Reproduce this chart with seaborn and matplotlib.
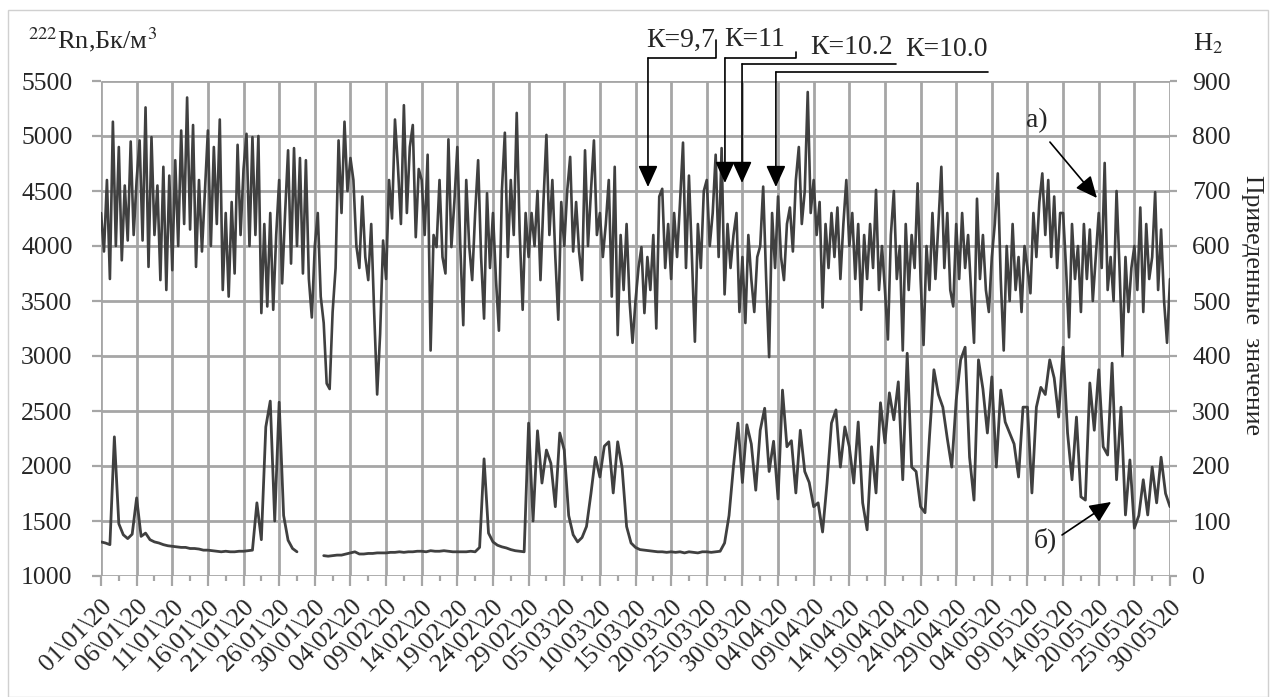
import numpy as np
import pandas as pd
import matplotlib.pyplot as plt
import seaborn as sns
from matplotlib.patches import Rectangle

# ==============================
# Data
# ==============================

# one label per grid column on the x axis
dates = [
    "01\\01\\20", "06\\01\\20", "11\\01\\20", "16\\01\\20", "21\\01\\20", "26\\01\\20",
    "30\\01\\20", "04\\02\\20", "09\\02\\20", "14\\02\\20", "19\\02\\20", "24\\02\\20",
    "29\\02\\20", "05\\03\\20", "10\\03\\20", "15\\03\\20", "20\\03\\20", "25\\03\\20",
    "30\\03\\20", "04\\04\\20", "09\\04\\20", "14\\04\\20", "19\\04\\20", "24\\04\\20",
    "29\\04\\20", "04\\05\\20", "09\\05\\20", "14\\05\\20", "20\\05\\20", "25\\05\\20",
    "30\\05\\20",
]

# readings between two neighbouring date labels
rn_per_step = 12
h2_per_step = 8

# radon, Bq/m3 (left axis), one row per label step
radon = [
    4300, 3950, 4600, 3700, 5130, 4000, 4900, 3870, 4550, 4050, 4950, 4100,
    4600, 4960, 4050, 5260, 3810, 4990, 4100, 4550, 3690, 4720, 3600, 4640,
    3780, 4780, 4000, 5050, 4200, 5350, 4150, 5100, 3810, 4600, 3950, 4500,
    5050, 4000, 4900, 4200, 5150, 3600, 4300, 3540, 4400, 3750, 4920, 4100,
    4700, 5020, 4000, 4990, 4100, 5000, 3390, 4200, 3450, 4300, 3420, 4100,
    4600, 3660, 4300, 4870, 3840, 4890, 4000, 4800, 3750, 4780, 3700, 3350,
    4000, 4300, 3540, 3300, 2750, 2700, 3400, 3800, 4960, 4300, 5130, 4500,
    4800, 4600, 4000, 3800, 4450, 3900, 3690, 4200, 3390, 2650, 3200, 4050,
    3700, 4600, 4250, 5150, 4720, 4200, 5280, 4300, 4900, 5100, 4080, 4700,
    4600, 4100, 4830, 3050, 4100, 3990, 4600, 3900, 3750, 4970, 3990, 4400,
    4900, 4000, 3280, 4600, 4000, 3690, 4300, 4780, 3900, 3340, 4480, 3800,
    4300, 3700, 3230, 4500, 5030, 3900, 4600, 4100, 5210, 4120, 3420, 4300,
    3900, 4300, 4000, 4500, 3690, 4400, 5010, 4100, 4600, 3900, 3330, 4400,
    4000, 4500, 4810, 3950, 4400, 3950, 3690, 4870, 4000, 4500, 4960, 4100,
    4300, 3900, 4200, 4600, 3540, 4720, 3190, 4100, 3600, 4200, 3500, 3120,
    3500, 3800, 3990, 3390, 3900, 3600, 4100, 3250, 4450, 4520, 3800, 4200,
    3700, 4300, 3900, 4400, 4940, 3800, 4640, 3900, 3130, 4200, 3800, 4500,
    4600, 4000, 4300, 4830, 3900, 4890, 3560, 4200, 3800, 4100, 4300, 3400,
    3900, 3300, 4100, 3700, 3400, 3900, 4000, 4540, 3700, 2990, 4300, 3800,
    4450, 3900, 3690, 4200, 4350, 3950, 4600, 4900, 4200, 4500, 5400, 4300,
    4600, 4100, 4400, 3440, 4200, 3800, 4300, 3900, 4350, 3700, 4200, 4600,
    4000, 4300, 3700, 4200, 3420, 4100, 3700, 4200, 3800, 4510, 3600, 4000,
    3600, 3150, 4100, 4500, 3700, 4000, 3050, 4200, 3600, 4100, 3800, 4570,
    3700, 3100, 4000, 3600, 4300, 3700, 4200, 4720, 3800, 4300, 3600, 3450,
    4200, 3700, 4300, 3800, 4100, 3600, 3120, 4430, 3700, 4100, 3600, 3400,
    3900, 4200, 4660, 3700, 3050, 4000, 3500, 4200, 3600, 3900, 3400, 4000,
    3800, 3570, 4300, 3900, 4400, 4660, 4100, 4600, 3900, 4450, 3800, 4300,
    4300, 3800, 3170, 4200, 3700, 4000, 3400, 4200, 3700, 4150, 3500, 3900,
    4300, 3800, 4755, 3600, 3900, 3500, 4500, 3800, 3000, 3900, 3400, 3800,
    4000, 3600, 4350, 3400, 4200, 3700, 3900, 4490, 3600, 4150, 3500, 3120,
    3700,
]

nan = np.nan
# H2, reduced values (right axis); nan = no measurements
h2 = [
    62, 60, 57, 253, 95, 75, 68, 76,
    142, 72, 78, 66, 62, 60, 57, 55,
    54, 53, 52, 52, 50, 50, 49, 47,
    47, 46, 45, 44, 45, 44, 44, 45,
    45, 46, 47, 133, 66, 271, 318, 100,
    316, 110, 65, 50, 44, nan, nan, nan,
    nan, nan, 37, 36, 37, 38, 38, 40,
    42, 44, 40, 40, 41, 41, 42, 42,
    42, 43, 43, 44, 43, 44, 44, 45,
    45, 44, 46, 45, 45, 46, 45, 44,
    44, 44, 44, 45, 44, 52, 213, 78,
    62, 56, 53, 51, 48, 46, 45, 44,
    278, 100, 264, 169, 229, 205, 126, 260,
    229, 110, 75, 62, 70, 90, 150, 216,
    180, 236, 244, 151, 244, 196, 90, 60,
    52, 48, 47, 46, 45, 44, 44, 43,
    44, 43, 44, 42, 44, 43, 42, 44,
    44, 43, 44, 45, 60, 110, 200, 278,
    170, 275, 240, 156, 265, 305, 190, 245,
    140, 338, 235, 246, 151, 265, 190, 170,
    126, 133, 80, 169, 278, 302, 198, 271,
    235, 169, 280, 133, 84, 235, 151, 315,
    242, 333, 284, 353, 175, 405, 198, 190,
    126, 115, 253, 375, 330, 307, 250, 198,
    320, 393, 416, 216, 138, 393, 340, 260,
    362, 198, 338, 280, 260, 240, 180, 307,
    307, 151, 307, 343, 330, 393, 360, 289,
    416, 260, 175, 289, 144, 138, 351, 265,
    375, 235, 220, 387, 175, 307, 111, 211,
    87, 110, 175, 111, 198, 133, 216, 150,
    126,
]

# K markers (coefficients) and where their arrows point
k_labels = ["К=9,7", "К=11", "К=10.2", "К=10.0"]
k_arrow_x = [15.35, 17.51, 17.99, 18.94]

LINE = "#404040"
GRID = "#a6a6a6"

# ==============================
# Style
# ==============================

sns.set_theme(style="white", rc={"xtick.bottom": True, "ytick.left": True})
plt.rcParams["font.family"] = ["Liberation Serif", "DejaVu Serif"]
plt.rcParams["mathtext.fontset"] = "stix"

fig, ax = plt.subplots(figsize=(12.76, 6.97), dpi=100)
fig.subplots_adjust(left=101 / 1276, right=1170 / 1276, top=1 - 81 / 697, bottom=1 - 576 / 697)
ax2 = ax.twinx()

# radon axis on top, H2 axis (with the white background and grid) below
ax.set_zorder(ax2.get_zorder() + 1)
ax.patch.set_visible(False)
ax2.patch.set_visible(True)
ax2.patch.set_facecolor("white")

# ==============================
# Series
# ==============================

df_rn = pd.DataFrame({"x": np.arange(len(radon)) / rn_per_step, "rn": radon})
sns.lineplot(data=df_rn, x="x", y="rn", ax=ax, color=LINE, lw=1.9, estimator=None)

h2_arr = np.array(h2, dtype=float)
df_h2 = pd.DataFrame({
    "x": np.arange(len(h2_arr)) / h2_per_step,
    "h2": h2_arr,
    "seg": np.cumsum(np.isnan(h2_arr)),
}).dropna()
sns.lineplot(data=df_h2, x="x", y="h2", units="seg", estimator=None,
             ax=ax2, color=LINE, lw=2.0)

# ==============================
# Axes
# ==============================

ax.set_xlim(0, len(dates) - 1)
ax.set_ylim(1000, 5500)
ax2.set_ylim(0, 900)
ax.set_yticks(range(1000, 5501, 500))
ax2.set_yticks(range(0, 901, 100))
ax.set_xticks(range(len(dates)))
ax.set_xticks(np.arange(0.5, len(dates) - 1, 1), minor=True)
ax.set_xticklabels(dates, rotation=45, ha="right", va="top", rotation_mode="anchor")

ax.set_xlabel("")
ax.set_ylabel("")
ax2.set_ylabel("")

# grid on the lower axis so that both lines sit above it
ax2.vlines(ax.get_xticks(), 0, 900, colors=GRID, lw=2.0, zorder=0.5)
ax2.hlines(ax2.get_yticks(), 0, len(dates) - 1, colors=GRID, lw=2.0, zorder=0.5)
ax2.set_xlim(0, len(dates) - 1)
ax2.set_ylim(0, 900)

for a in (ax, ax2):
    for s in a.spines.values():
        s.set_visible(False)

ax.tick_params(axis="y", left=True, length=6.5, width=1.6, color=GRID, pad=14, labelsize=18.5)
ax2.tick_params(axis="y", right=True, length=5, width=1.6, color=GRID, pad=11, labelsize=18.5)
ax.tick_params(axis="x", which="major", bottom=True, length=7, width=1.6, color=GRID,
               pad=7, labelsize=18.5)
ax.tick_params(axis="x", which="minor", bottom=True, length=3.5, width=1.6, color=GRID)

# ==============================
# Texts and arrows
# ==============================

fig.text(28 / 1276, 1 - 40 / 697, "$^{222}$Rn,Бк/м$^3$", ha="left", va="center", fontsize=19)
fig.text(1193 / 1276, 1 - 44 / 697, "H$_2$", ha="left", va="center", fontsize=19)
fig.text(1252 / 1276, 1 - 305 / 697, "Приведенные  значение", rotation=-90,
         ha="center", va="center", fontsize=18.5)

arrow = dict(arrowstyle="-|>,head_length=1.1,head_width=0.5", color="black", lw=1.2,
             shrinkA=0, shrinkB=0)

# K=9,7 and K=11 use a small bracket, the others a plain leader line
k_text_x = [17.24, 17.50, 19.89, 22.57]
k_text_y = [5873, 5873, 5800, 5782]
k_line_y = [5709, 5709, 5655, 5582]
k_line_end = [17.26, 19.51, 22.31, 24.89]
k_tick_top = [5873, 5764, None, None]
k_tip_y = [4536, 4573, 4573, 4536]
for i, lab in enumerate(k_labels):
    ha = "right" if i == 0 else "left"
    ax.text(k_text_x[i], k_text_y[i], lab, ha=ha, va="center", fontsize=20, clip_on=False)
    xs = [k_line_end[i], k_arrow_x[i]]
    ys = [k_line_y[i], k_line_y[i]]
    if k_tick_top[i] is not None:
        xs = [k_line_end[i]] + xs
        ys = [k_tick_top[i]] + ys
    ax.plot(xs, ys, color="black", lw=1.2, clip_on=False)
    ax.annotate("", xy=(k_arrow_x[i], k_tip_y[i]), xytext=(k_arrow_x[i], k_line_y[i]),
                arrowprops=arrow, annotation_clip=False)

ax.text(26.27, 5136, "а)", ha="center", va="center", fontsize=20)
ax.annotate("", xy=(27.95, 4436), xytext=(26.63, 4945), arrowprops=arrow)
ax.text(26.49, 1327, "б)", ha="center", va="center", fontsize=20)
ax.annotate("", xy=(28.35, 1673), xytext=(26.97, 1373), arrowprops=arrow)

# chart frame
fig.patches.append(Rectangle((8 / 1276, 0), 1260 / 1276, 1 - 10 / 697,
                             transform=fig.transFigure, fill=False, ec="#d0d0d0", lw=1))

plt.savefig("out.png", dpi=100)
plt.close()
